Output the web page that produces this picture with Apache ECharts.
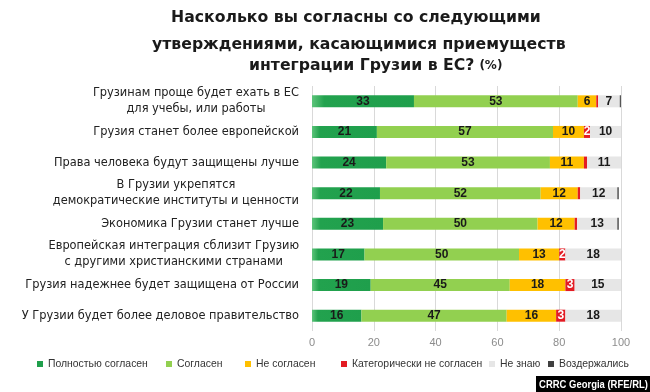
<!DOCTYPE html>
<html>
<head>
<meta charset="utf-8">
<script src="https://cdn.jsdelivr.net/npm/echarts@6/dist/echarts.min.js"></script>
<style>
html,body{margin:0;padding:0;background:#fff;}
#chart{width:650px;height:392px;}
</style>
</head>
<body>
<div id="chart"></div>
<script>
var categories = [
  'Грузинам проще будет ехать в ЕС\nдля учебы, или работы',
  'Грузия станет более европейской',
  'Права человека будут защищены лучше',
  'В Грузии укрепятся\nдемократические институты и ценности',
  'Экономика Грузии станет лучше',
  'Европейская интеграция сблизит Грузию\nс другими христианскими странами',
  'Грузия надежнее будет защищена от России',
  'У Грузии будет более деловое правительство'
];
var seriesNames = ['Полностью согласен','Согласен','Не согласен','Категорически не согласен','Не знаю','Воздержались'];
var strongAgree    = [33, 21, 24, 22, 23, 17, 19, 16];
var agree          = [53, 57, 53, 52, 50, 50, 45, 47];
var disagree       = [6, 10, 11, 12, 12, 13, 18, 16];
var strongDisagree = [0.6, 2, 1, 0.8, 0.8, 2, 3, 3];
var dontKnow       = [7, 10, 11, 12, 13, 18, 15, 18];
var refused        = [0.5, 1, 0.6, 0.5, 0.5, 0.5, 1, 0.5];
var xTicks = [0, 20, 40, 60, 80, 100];

var chart = echarts.init(document.getElementById('chart'), null, {renderer: 'canvas'});

var colors = [
  new echarts.graphic.LinearGradient(0, 0, 1, 0, [
    {offset: 0, color: '#5cc47a'}, {offset: 0.12, color: '#22a24e'}, {offset: 1, color: '#1f9f4c'}
  ]),
  '#92d050', '#ffc000', '#e31b23', '#e6e6e6', '#555555'
];
var legendColors = ['#1f9f4c', '#92d050', '#ffc000', '#e31b23', '#e6e6e6', '#404040'];
var datasets = [strongAgree, agree, disagree, strongDisagree, dontKnow, refused];
var labelColors = ['#1a1a1a', '#1a1a1a', '#1a1a1a', '#ffffff', '#1a1a1a', '#1a1a1a'];

var series = datasets.map(function (d, i) {
  return {
    name: seriesNames[i],
    type: 'bar',
    stack: 'total',
    barWidth: 12,
    data: d,
    itemStyle: {color: colors[i]},
    label: {
      show: true,
      position: 'inside',
      color: labelColors[i],
      fontFamily: 'Liberation Sans',
      fontWeight: 'bold',
      fontSize: 12,
      formatter: function (p) { return p.value >= 2 ? String(p.value) : ''; }
    },
    emphasis: {disabled: true}
  };
});

var legendLefts = [37, 166, 245, 341, 489, 548];
var legends = seriesNames.map(function (n, i) {
  return {
    data: [{name: n, itemStyle: {color: legendColors[i]}}],
    left: legendLefts[i],
    top: 359,
    padding: 0,
    itemWidth: 6,
    itemHeight: 6,
    icon: 'rect',
    selectedMode: false,
    textStyle: {fontFamily: 'Liberation Sans', fontSize: 10.4, color: '#333'}
  };
});

var titleFont = {fontFamily: 'DejaVu Sans', fontWeight: 'bold', fontSize: 15.7, color: '#1a1a1a'};
var option = {
  backgroundColor: '#ffffff',
  animation: false,
  title: [
    {text: 'Насколько вы согласны со следующими', left: 171, top: 10, padding: 0, textStyle: titleFont},
    {text: 'утверждениями, касающимися приемуществ', left: 152, top: 37, padding: 0, textStyle: titleFont},
    {text: '{a|интеграции Грузии в ЕС?} {b|(%)}', left: 249, top: 57, padding: 0,
     textStyle: {rich: {
       a: titleFont,
       b: {fontFamily: 'DejaVu Sans', fontWeight: 'bold', fontSize: 12, color: '#1a1a1a'}
     }}}
  ],
  legend: legends,
  grid: {left: 312, right: 29, top: 86, bottom: 61, containLabel: false},
  xAxis: {
    type: 'value', min: 0, max: 100, interval: 20,
    axisLine: {show: false}, axisTick: {show: false},
    splitLine: {show: true, lineStyle: {color: '#d9d9d9', width: 1}},
    axisLabel: {color: '#8c8c8c', fontFamily: 'Liberation Sans', fontSize: 11, margin: 6,
      formatter: function (v) { return xTicks.indexOf(v) >= 0 ? String(v) : ''; }}
  },
  yAxis: {
    type: 'category', inverse: true, data: categories,
    axisLine: {show: false}, axisTick: {show: false},
    axisLabel: {
      margin: 13, align: 'right',
      formatter: function (v) {
        return v.split('\n').map(function (l) { return '{c|' + l + '}'; }).join('\n');
      },
      rich: {c: {align: 'center', fontFamily: 'DejaVu Sans', fontSize: 11.4, color: '#222', lineHeight: 16}}
    }
  },
  series: series,
  graphic: [
    {type: 'rect', right: 0, bottom: 0, shape: {width: 114, height: 16}, style: {fill: '#000'}},
    {type: 'text', x: 593.5, y: 384.5, scaleX: 0.86, style: {text: 'CRRC Georgia (RFE/RL)', fill: '#fff',
      font: 'bold 11px "Liberation Sans"', align: 'center', verticalAlign: 'middle'}}
  ]
};
chart.setOption(option);
</script>
</body>
</html>
